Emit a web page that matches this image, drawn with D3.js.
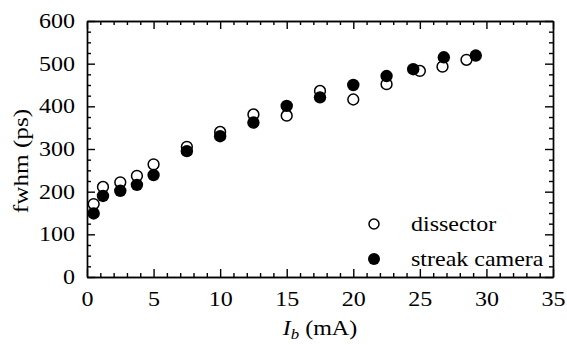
<!DOCTYPE html>
<html lang="en">
<head>
    <meta charset="UTF-8"/>
    <title>fwhm vs beam current</title>
    <script src="https://d3js.org/d3.v7.min.js"></script>
    <style>
        body { margin: 0; background: #fff; }
        .axis path, .axis line { stroke: #000; stroke-width: 1.4; }
    </style>
</head>
<body>
<script>
    var w = 567;
    var h = 345;
    var margin = {top: 21, right: 14, bottom: 68, left: 87};
    var serif = "'Liberation Serif', 'Times New Roman', 'DejaVu Serif', serif";
    var fs = 20;      // font size
    var stretch = 1.2; // text in the original is wider than Times

    // dissector (open circles)
    var dissectorI    = [0.5, 1.2, 2.5, 3.75, 5, 7.5, 10, 12.5, 15, 17.5, 20, 22.5, 25, 26.7, 28.5];
    var dissectorFwhm = [171, 211, 222, 237, 264, 305, 340, 381, 378, 436, 416, 452, 483, 493, 509];

    // streak camera (filled circles)
    var streakI    = [0.5, 1.2, 2.5, 3.75, 5, 7.5, 10, 12.5, 15, 17.5, 20, 22.5, 24.5, 26.8, 29.2];
    var streakFwhm = [149, 190, 202, 216, 239, 295, 330, 362, 401, 421, 450, 471, 487, 515, 519];

    var xTicks = [0, 5, 10, 15, 20, 25, 30, 35];
    var yTicks = [0, 100, 200, 300, 400, 500, 600];

    var xScale = d3.scaleLinear()
                   .domain([0, 35])
                   .range([margin.left, w - margin.right]);

    var yScale = d3.scaleLinear()
                   .domain([0, 600])
                   .range([h - margin.bottom, margin.top]);

    var xMinor = d3.range(0, 36, 1).filter(function(d){ return d % 5 !== 0; });
    var yMinor = d3.range(0, 601, 25).filter(function(d){ return d % 100 !== 0; });

    var svg = d3.select("body")
                .append("svg")
                .attr("width", w)
                .attr("height", h);

    var bottom = h - margin.bottom;
    var right = w - margin.right;

    // major ticks with labels
    svg.append("g").attr("class", "axis")
       .attr("transform", "translate(0," + bottom + ")")
       .call(d3.axisBottom(xScale).tickValues(xTicks).tickSize(-8).tickPadding(15).tickSizeOuter(0));
    svg.append("g").attr("class", "axis")
       .attr("transform", "translate(" + margin.left + ",0)")
       .call(d3.axisLeft(yScale).tickValues(yTicks).tickSize(-8).tickPadding(10).tickSizeOuter(0));
    svg.append("g").attr("class", "axis")
       .attr("transform", "translate(0," + margin.top + ")")
       .call(d3.axisTop(xScale).tickValues(xTicks).tickSize(-8).tickFormat("").tickSizeOuter(0));
    svg.append("g").attr("class", "axis")
       .attr("transform", "translate(" + right + ",0)")
       .call(d3.axisRight(yScale).tickValues(yTicks).tickSize(-8).tickFormat("").tickSizeOuter(0));

    // minor ticks
    svg.append("g").attr("class", "axis")
       .attr("transform", "translate(0," + bottom + ")")
       .call(d3.axisBottom(xScale).tickValues(xMinor).tickSize(-4).tickFormat("").tickSizeOuter(0));
    svg.append("g").attr("class", "axis")
       .attr("transform", "translate(0," + margin.top + ")")
       .call(d3.axisTop(xScale).tickValues(xMinor).tickSize(-4).tickFormat("").tickSizeOuter(0));
    svg.append("g").attr("class", "axis")
       .attr("transform", "translate(" + margin.left + ",0)")
       .call(d3.axisLeft(yScale).tickValues(yMinor).tickSize(-4).tickFormat("").tickSizeOuter(0));
    svg.append("g").attr("class", "axis")
       .attr("transform", "translate(" + right + ",0)")
       .call(d3.axisRight(yScale).tickValues(yMinor).tickSize(-4).tickFormat("").tickSizeOuter(0));

    svg.selectAll(".axis .tick text")
       .style("font-size", fs + "px")
       .attr("transform", "scale(" + stretch + ",1)");

    // dissector points
    svg.selectAll("circle.dis")
       .data(d3.zip(dissectorI, dissectorFwhm))
       .enter()
       .append("circle")
       .attr("class", "dis")
       .attr("cx", function(d){ return xScale(d[0]); })
       .attr("cy", function(d){ return yScale(d[1]); })
       .attr("r", 5.4)
       .attr("fill", "#fff")
       .attr("stroke", "#000")
       .attr("stroke-width", 1.5);

    // streak camera points
    svg.selectAll("circle.str")
       .data(d3.zip(streakI, streakFwhm))
       .enter()
       .append("circle")
       .attr("class", "str")
       .attr("cx", function(d){ return xScale(d[0]); })
       .attr("cy", function(d){ return yScale(d[1]); })
       .attr("r", 6.2)
       .attr("fill", "#000");

    // legend
    svg.append("circle").attr("cx", 374).attr("cy", 224).attr("r", 5)
       .attr("fill", "#fff").attr("stroke", "#000").attr("stroke-width", 1.5);
    svg.append("text").attr("transform", "translate(411,231) scale(" + stretch + ",1)")
       .style("font-size", fs + "px").text("dissector");
    svg.append("circle").attr("cx", 374).attr("cy", 259).attr("r", 6).attr("fill", "#000");
    svg.append("text").attr("transform", "translate(411,266) scale(" + stretch + ",1)")
       .style("font-size", fs + "px").text("streak camera");

    // axis titles
    var xl = svg.append("text")
       .attr("transform", "translate(320,335) scale(" + stretch + ",1)")
       .attr("text-anchor", "middle")
       .style("font-size", fs + "px");
    xl.append("tspan").style("font-style", "italic").text("I");
    xl.append("tspan").style("font-style", "italic").style("font-size", "14px").attr("dy", 4).text("b");
    xl.append("tspan").attr("dy", -4).text(" (mA)");

    svg.append("text")
       .attr("transform", "translate(28,161) rotate(-90) scale(" + stretch + ",1)")
       .attr("text-anchor", "middle")
       .style("font-size", (fs + 1) + "px")
       .text("fwhm (ps)");

    svg.selectAll("text").style("font-family", serif).attr("fill", "#000");
</script>
</body>
</html>
